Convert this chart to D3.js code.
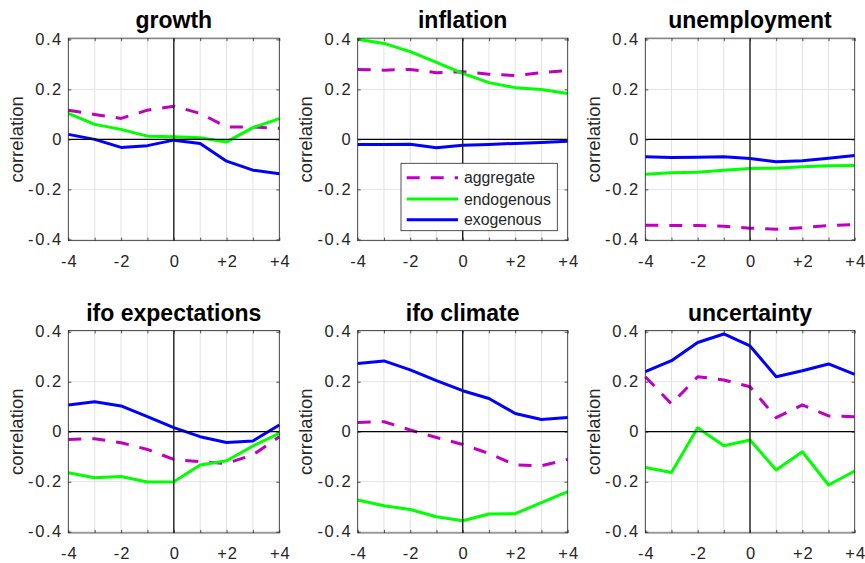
<!DOCTYPE html>
<html>
<head>
<meta charset="utf-8">
<script src="https://cdn.jsdelivr.net/npm/d3@7"></script>
<style>
  html, body { margin: 0; padding: 0; background: #fff; }
  svg { display: block; font-family: "Liberation Sans", Arial, Helvetica, sans-serif; }
</style>
</head>
<body>
<svg id="chart" width="865" height="563"></svg>
<script>
// ---------------- data ----------------
const lags = [-4, -3, -2, -1, 0, 1, 2, 3, 4];
const xTickLabels = ["-4", "", "-2", "", "0", "", "+2", "", "+4"];
const yTicks = [-0.4, -0.2, 0, 0.2, 0.4];
const yTickLabels = ["-0.4", "-0.2", "0", "0.2", "0.4"];
const panelTitles = ["growth", "inflation", "unemployment", "ifo expectations", "ifo climate", "uncertainty"];
const seriesNames = ["aggregate", "endogenous", "exogenous"];

// one row per panel, in the order of panelTitles
const aggregate = [
  [0.117, 0.100, 0.084, 0.117, 0.133, 0.104, 0.050, 0.050, 0.044],
  [0.280, 0.277, 0.280, 0.267, 0.271, 0.261, 0.255, 0.267, 0.275],
  [-0.343, -0.344, -0.344, -0.347, -0.355, -0.359, -0.353, -0.345, -0.341],
  [-0.031, -0.028, -0.044, -0.071, -0.111, -0.120, -0.127, -0.093, -0.020],
  [0.037, 0.040, 0.007, -0.023, -0.051, -0.087, -0.133, -0.136, -0.111],
  [0.220, 0.111, 0.220, 0.207, 0.180, 0.056, 0.107, 0.063, 0.060]
];
const endogenous = [
  [0.104, 0.060, 0.040, 0.013, 0.011, 0.007, -0.010, 0.047, 0.083],
  [0.401, 0.384, 0.351, 0.308, 0.264, 0.227, 0.207, 0.200, 0.184],
  [-0.139, -0.133, -0.131, -0.123, -0.116, -0.115, -0.109, -0.105, -0.104],
  [-0.164, -0.184, -0.179, -0.201, -0.200, -0.133, -0.116, -0.057, -0.007],
  [-0.273, -0.296, -0.311, -0.340, -0.356, -0.329, -0.328, -0.284, -0.240],
  [-0.143, -0.163, 0.016, -0.056, -0.033, -0.153, -0.080, -0.213, -0.157]
];
const exogenous = [
  [0.020, 0.000, -0.032, -0.025, -0.003, -0.016, -0.087, -0.123, -0.137],
  [-0.020, -0.020, -0.019, -0.033, -0.023, -0.020, -0.016, -0.012, -0.007],
  [-0.069, -0.072, -0.071, -0.069, -0.076, -0.089, -0.085, -0.075, -0.064],
  [0.107, 0.120, 0.103, 0.060, 0.016, -0.020, -0.043, -0.037, 0.027],
  [0.273, 0.283, 0.247, 0.204, 0.164, 0.133, 0.073, 0.049, 0.057],
  [0.240, 0.284, 0.357, 0.391, 0.343, 0.220, 0.244, 0.271, 0.229]
];

// ---------------- layout & style ----------------
const colLeft = [68.3, 357.7, 645.3];
const colWidth = [211, 210, 209.4];
const rowTop = [38.15, 330.45];
const plotHeight = 202.5;
const yDomain = [-0.405, 0.405];
const seriesStyle = [
  { color: "#bf00bf", dash: "13,11" },
  { color: "#00ff00", dash: null },
  { color: "#0000ff", dash: null }
];
const seriesData = [aggregate, endogenous, exogenous];
const axisColor = "#262626";
const gridColor = "#e3e3e3";
const tickFontSize = "16.5px";
const tickSpacing = 1.6;

const svg = d3.select("#chart");

panelTitles.forEach((title, p) => {
  const col = p % 3, row = Math.floor(p / 3);
  const left = colLeft[col], w = colWidth[col], top = rowTop[row];
  const x = d3.scaleLinear().domain([-4, 4]).range([left, left + w]);
  const y = d3.scaleLinear().domain(yDomain).range([top + plotHeight, top]);
  const g = svg.append("g");

  // grid
  g.append("g").selectAll("line").data(lags).join("line")
    .attr("x1", d => x(d)).attr("x2", d => x(d))
    .attr("y1", top).attr("y2", top + plotHeight)
    .attr("stroke", gridColor).attr("stroke-width", 1);
  g.append("g").selectAll("line").data(yTicks).join("line")
    .attr("x1", left).attr("x2", left + w)
    .attr("y1", d => y(d)).attr("y2", d => y(d))
    .attr("stroke", gridColor).attr("stroke-width", 1);

  // series
  const line = d3.line().x((d, i) => x(lags[i])).y(d => y(d));
  seriesData.forEach((sd, s) => {
    g.append("path").datum(sd[p])
      .attr("d", line)
      .attr("fill", "none")
      .attr("stroke", seriesStyle[s].color)
      .attr("stroke-width", 3)
      .attr("stroke-linejoin", "round")
      .attr("stroke-dasharray", seriesStyle[s].dash);
  });

  // zero lines
  g.append("line").attr("x1", left).attr("x2", left + w)
    .attr("y1", y(0)).attr("y2", y(0)).attr("stroke", "#000").attr("stroke-width", 1.2);
  g.append("line").attr("x1", x(0)).attr("x2", x(0))
    .attr("y1", top).attr("y2", top + plotHeight).attr("stroke", "#222").attr("stroke-width", 1.4);

  // box
  g.append("rect").attr("x", left).attr("y", top).attr("width", w).attr("height", plotHeight)
    .attr("fill", "none").attr("stroke", axisColor).attr("stroke-width", 0.8);

  // axes with inward ticks (using d3 axes)
  const xAxisB = d3.axisBottom(x).tickValues(lags).tickFormat((d, i) => xTickLabels[i]).tickSizeInner(-3).tickSizeOuter(0);
  const xAxisT = d3.axisTop(x).tickValues(lags).tickFormat("").tickSizeInner(-3).tickSizeOuter(0);
  const yAxisL = d3.axisLeft(y).tickValues(yTicks).tickFormat((d, i) => yTickLabels[i]).tickSizeInner(-3).tickSizeOuter(0).tickPadding(7);
  const yAxisR = d3.axisRight(y).tickValues(yTicks).tickFormat("").tickSizeInner(-3).tickSizeOuter(0);

  const styleAxis = (sel, spacing) => {
    sel.select(".domain").remove();
    sel.selectAll(".tick line").attr("stroke", axisColor).attr("stroke-width", 0.8);
    sel.selectAll(".tick text").attr("fill", axisColor)
      .style("font-size", tickFontSize).style("letter-spacing", spacing + "px")
      .style("font-family", "'Liberation Sans', Arial, sans-serif");
  };
  g.append("g").attr("transform", `translate(0,${top + plotHeight})`).call(xAxisB).call(styleAxis, 1)
    .selectAll(".tick text").attr("dy", null).attr("y", 26).attr("dx", "0.5px");
  g.append("g").attr("transform", `translate(0,${top})`).call(xAxisT).call(styleAxis, 1);
  g.append("g").attr("transform", `translate(${left},0)`).call(yAxisL).call(styleAxis, tickSpacing)
    .selectAll(".tick text").attr("dx", tickSpacing + "px");
  g.append("g").attr("transform", `translate(${left + w},0)`).call(yAxisR).call(styleAxis, 1);

  // title
  g.append("text").attr("x", left + w / 2).attr("y", top - 9.85)
    .attr("text-anchor", "middle").attr("font-weight", "bold")
    .attr("font-size", 23).attr("fill", "#000").text(title);

  // y label
  g.append("text")
    .attr("transform", `translate(${left - 45.5},${y(0)}) rotate(-90)`)
    .attr("text-anchor", "middle").attr("font-size", 18.5).attr("fill", axisColor)
    .text("correlation");

  // legend in inflation panel
  if (p === 1) {
    const lg = g.append("g");
    lg.append("rect").attr("x", 401).attr("y", 163.3).attr("width", 156.3).attr("height", 67.4)
      .attr("fill", "#fff").attr("stroke", axisColor).attr("stroke-width", 0.8);
    const rowsY = [177.7, 199, 219.7];
    seriesNames.forEach((name, s) => {
      lg.append("line").attr("x1", 406.7).attr("x2", 458).attr("y1", rowsY[s]).attr("y2", rowsY[s])
        .attr("stroke", seriesStyle[s].color).attr("stroke-width", 3)
        .attr("stroke-dasharray", seriesStyle[s].dash);
      lg.append("text").attr("x", 464).attr("y", rowsY[s]).attr("dy", "0.35em")
        .attr("font-size", 15.8).attr("fill", axisColor).text(name);
    });
  }
});
</script>
</body>
</html>
